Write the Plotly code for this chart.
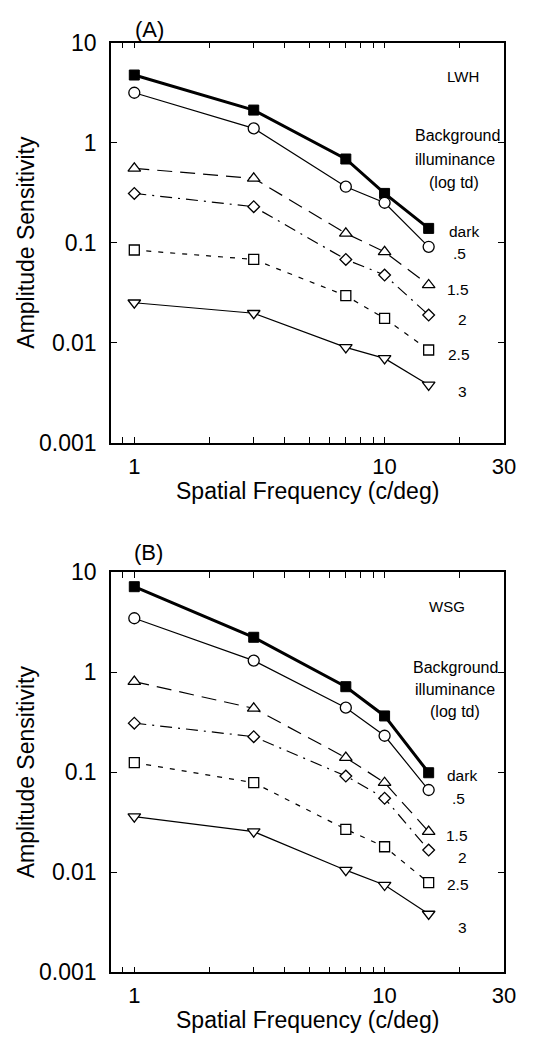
import math
import plotly.graph_objects as go

W, H = 534, 1038

freq = [1, 3, 7, 10, 15]

# Panel A (LWH)
dark_A = [4.75, 2.12, 0.687, 0.311, 0.139]
half_A = [3.16, 1.39, 0.363, 0.251, 0.091]
l15_A = [0.554, 0.44, 0.124, 0.081, 0.0378]
l2_A = [0.311, 0.229, 0.068, 0.0475, 0.0189]
l25_A = [0.0845, 0.068, 0.0295, 0.0175, 0.00845]
l3_A = [0.0251, 0.0197, 0.00898, 0.00697, 0.00378]

# Panel B (WSG)
dark_B = [7.18, 2.24, 0.718, 0.366, 0.099]
half_B = [3.47, 1.31, 0.443, 0.232, 0.0665]
l15_B = [0.806, 0.436, 0.14, 0.0787, 0.0255]
l2_B = [0.31, 0.227, 0.0918, 0.055, 0.0167]
l25_B = [0.125, 0.0787, 0.0269, 0.018, 0.00787]
l3_B = [0.036, 0.0255, 0.0105, 0.00746, 0.00383]

level_labels = ["dark", ".5", "1.5", "2", "2.5", "3"]

x_tickvals = [0.9, 1, 2, 3, 4, 5, 6, 7, 8, 9, 10, 20, 30]
x_ticktext = ["", "1", "", "", "", "", "", "", "", "", "10", "", "30"]
y_tickvals = [0.001, 0.01, 0.1, 1, 10]
y_ticktext = ["0.001", "0.01", "0.1", "1", "10"]

FONT = "Liberation Sans, Arial, Helvetica, sans-serif"

styles = [
    dict(line=dict(color="black", width=3), marker=dict(symbol="square", size=10, color="black", line=dict(color="black", width=1))),
    dict(line=dict(color="black", width=1.2), marker=dict(symbol="circle", size=11, color="white", line=dict(color="black", width=1.3))),
    dict(line=dict(color="black", width=1.2, dash="15px,8px"), marker=dict(symbol="triangle-up", size=11, color="white", line=dict(color="black", width=1.3))),
    dict(line=dict(color="black", width=1.2, dash="12px,6px,2px,6px"), marker=dict(symbol="diamond", size=9, color="white", line=dict(color="black", width=1.3))),
    dict(line=dict(color="black", width=1.2, dash="5px,7px"), marker=dict(symbol="square", size=10, color="white", line=dict(color="black", width=1.3))),
    dict(line=dict(color="black", width=1.2), marker=dict(symbol="triangle-down", size=11, color="white", line=dict(color="black", width=1.3))),
]

fig = go.Figure()

panels = [
    ("x", "y", [dark_A, half_A, l15_A, l2_A, l25_A, l3_A]),
    ("x2", "y2", [dark_B, half_B, l15_B, l2_B, l25_B, l3_B]),
]
for xr, yr, series in panels:
    for name, vals, st in zip(level_labels, series, styles):
        fig.add_trace(go.Scatter(x=freq, y=vals, mode="lines+markers", name=name,
                                 xaxis=xr, yaxis=yr, showlegend=False,
                                 line=st["line"], marker=st["marker"], cliponaxis=False))


def px(xp):
    return xp / W


def py(yp):
    return 1 - yp / H


xrange_log = [math.log10(0.807), math.log10(30)]
xdom = [px(111), px(504)]

axis_common = dict(showline=True, linewidth=1.5, linecolor="black", mirror="ticks",
                   ticks="inside", ticklen=6, tickwidth=1.2, tickcolor="black",
                   showgrid=False, zeroline=False, automargin=False)
xfont = dict(family=FONT, size=22, color="black")
yfont = dict(family=FONT, size=23, color="black")

fig.update_layout(
    width=W, height=H,
    margin=dict(l=0, r=0, t=0, b=0, pad=0, autoexpand=False),
    plot_bgcolor="white", paper_bgcolor="white",
    font=dict(family=FONT, color="black"),
    xaxis=dict(type="log", range=xrange_log, domain=xdom, anchor="y", tickfont=xfont,
               tickvals=x_tickvals, ticktext=x_ticktext, ticklabelstandoff=3, **axis_common),
    yaxis=dict(type="log", range=[-3, 1], domain=[py(442.7), py(42.7)], anchor="x", tickfont=yfont,
               tickvals=y_tickvals, ticktext=y_ticktext, ticklabelstandoff=8, **axis_common),
    xaxis2=dict(type="log", range=xrange_log, domain=xdom, anchor="y2", tickfont=xfont,
                tickvals=x_tickvals, ticktext=x_ticktext, ticklabelstandoff=3, **axis_common),
    yaxis2=dict(type="log", range=[-3, 1], domain=[py(972.3), py(572.3)], anchor="x2", tickfont=yfont,
                tickvals=y_tickvals, ticktext=y_ticktext, ticklabelstandoff=8, **axis_common),
)

ann = []


def text(t, xp, yp, size=15, xanchor="center", rot=0):
    ann.append(dict(text=t, x=px(xp), y=py(yp), xref="paper", yref="paper",
                    xanchor=xanchor, yanchor="middle", showarrow=False, textangle=rot,
                    font=dict(family=FONT, size=size, color="black")))


# Panel titles
text("(A)", 149, 29, size=22)
text("(B)", 148, 552, size=22)

# Axis titles
for top in (42.7, 572.3):
    text("Amplitude Sensitivity", 26, top + 200, size=23, rot=-90)
    text("Spatial Frequency (c/deg)", 307, top + 448, size=23)

# Panel A labels
text("LWH", 463, 76)
text("Background", 457, 136, size=16)
text("illuminance", 455, 159.5, size=16)
text("(log td)", 454, 183, size=16)
a_pos = [(464, 231), (459, 253), (458, 289), (462, 320), (459, 354), (462, 391)]
for lab, (xx, yy) in zip(level_labels, a_pos):
    text(lab, xx, yy, size=15.5)

# Panel B labels
text("WSG", 447, 606)
text("Background", 455, 667, size=16)
text("illuminance", 455, 689, size=16)
text("(log td)", 455, 711, size=16)
b_pos = [(462, 775), (458, 798), (457, 835), (462, 857), (458, 884), (462, 927)]
for lab, (xx, yy) in zip(level_labels, b_pos):
    text(lab, xx, yy, size=15.5)

fig.update_layout(annotations=ann)

fig.write_html("out.html", config={"displayModeBar": False},
               post_script="document.body.style.margin='0px';")
